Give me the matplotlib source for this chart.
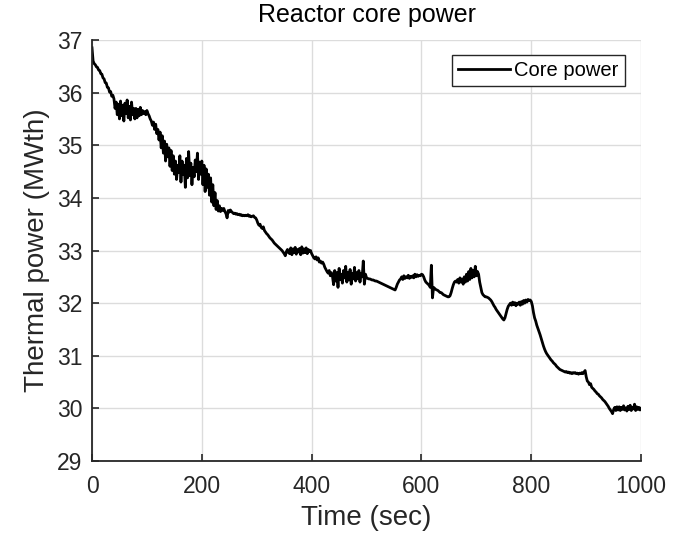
import numpy as np
import matplotlib.pyplot as plt

plt.rcParams['font.family'] = ['Liberation Sans', 'DejaVu Sans']

# core power logged every 2 s over the 1000 s run (MWth)
sample_step = 2
core_power = [
    36.85, 36.60, 36.55, 36.53, 36.49, 36.48, 36.43, 36.42, 36.36, 36.35,
    36.28, 36.26, 36.19, 36.18, 36.10, 36.09, 36.01, 36.02, 35.93, 35.95,
    35.88, 35.70, 35.82, 35.58, 35.78, 35.50, 35.84, 35.56, 35.76, 35.46,
    35.80, 35.60, 35.86, 35.52, 35.74, 35.48, 35.82, 35.58, 35.70, 35.50,
    35.70, 35.52, 35.68, 35.56, 35.72, 35.58, 35.66, 35.60, 35.64, 35.58,
    35.66, 35.60, 35.56, 35.50, 35.46, 35.38, 35.44, 35.30, 35.40, 35.22,
    35.30, 35.10, 35.25, 34.95, 35.18, 34.85, 35.08, 34.70, 35.02, 34.78,
    34.95, 34.60, 34.90, 34.52, 34.80, 34.45, 34.70, 34.35, 34.62, 34.48,
    34.80, 34.30, 34.70, 34.45, 34.62, 34.20, 34.75, 34.38, 34.88, 34.42,
    34.66, 34.25, 34.58, 34.40, 34.72, 34.50, 34.85, 34.35, 34.68, 34.45,
    34.70, 34.25, 34.62, 34.12, 34.55, 34.20, 34.45, 34.05, 34.38, 33.92,
    34.25, 33.85, 34.10, 33.78, 33.95, 33.75, 33.85, 33.74, 33.80, 33.76,
    33.80, 33.74, 33.70, 33.62, 33.76, 33.73, 33.77, 33.74, 33.72, 33.70,
    33.71, 33.69, 33.70, 33.68, 33.69, 33.67, 33.68, 33.66, 33.67, 33.66,
    33.67, 33.66, 33.68, 33.65, 33.66, 33.64, 33.65, 33.66, 33.63, 33.62,
    33.58, 33.52, 33.48, 33.50, 33.44, 33.42, 33.45, 33.38, 33.35, 33.32,
    33.30, 33.27, 33.24, 33.22, 33.20, 33.17, 33.14, 33.12, 33.10, 33.08,
    33.06, 33.04, 33.02, 33.00, 32.97, 32.94, 32.90, 32.98, 33.02, 32.96,
    32.94, 33.05, 32.92, 33.03, 32.96, 33.06, 32.93, 33.02, 32.97, 33.04,
    32.92, 33.07, 32.95, 33.03, 32.96, 33.05, 32.94, 33.02, 32.98, 33.00,
    32.94, 32.90, 32.86, 32.84, 32.88, 32.82, 32.86, 32.78, 32.80, 32.76,
    32.78, 32.74, 32.68, 32.64, 32.60, 32.57, 32.62, 32.52, 32.58, 32.50,
    32.35, 32.62, 32.42, 32.58, 32.30, 32.66, 32.45, 32.55, 32.38, 32.62,
    32.48, 32.70, 32.40, 32.58, 32.44, 32.64, 32.36, 32.56, 32.46, 32.68,
    32.42, 32.58, 32.46, 32.62, 32.40, 32.56, 32.50, 32.80, 32.36, 32.55,
    32.48, 32.47, 32.46, 32.46, 32.45, 32.44, 32.44, 32.43, 32.42, 32.42,
    32.41, 32.40, 32.39, 32.38, 32.37, 32.36, 32.35, 32.34, 32.33, 32.32,
    32.31, 32.30, 32.29, 32.28, 32.27, 32.26, 32.25, 32.30, 32.36, 32.40,
    32.44, 32.46, 32.50, 32.45, 32.52, 32.47, 32.50, 32.48, 32.53, 32.47,
    32.51, 32.49, 32.52, 32.48, 32.55, 32.50, 32.54, 32.51, 32.53, 32.52,
    32.55, 32.54, 32.50, 32.44, 32.40, 32.38, 32.36, 32.34, 32.30, 32.72,
    32.10, 32.30, 32.28, 32.26, 32.25, 32.24, 32.22, 32.20, 32.20, 32.18,
    32.16, 32.15, 32.14, 32.13, 32.12, 32.12, 32.14, 32.20, 32.28, 32.35,
    32.40, 32.42, 32.40, 32.45, 32.38, 32.48, 32.40, 32.46, 32.36, 32.50,
    32.40, 32.55, 32.42, 32.60, 32.45, 32.66, 32.48, 32.62, 32.50, 32.70,
    32.52, 32.60, 32.55, 32.40, 32.30, 32.20, 32.16, 32.14, 32.12, 32.12,
    32.11, 32.10, 32.08, 32.06, 32.03, 31.99, 31.95, 31.92, 31.88, 31.85,
    31.82, 31.79, 31.76, 31.73, 31.70, 31.68, 31.72, 31.80, 31.88, 31.94,
    31.97, 32.00, 31.96, 32.02, 31.97, 32.01, 31.95, 32.00, 31.98, 32.02,
    31.96, 32.03, 31.98, 32.05, 32.00, 32.06, 32.02, 32.07, 32.05, 32.06,
    32.03, 31.95, 31.82, 31.72, 31.66, 31.58, 31.52, 31.46, 31.40, 31.33,
    31.26, 31.19, 31.13, 31.08, 31.04, 31.01, 30.98, 30.95, 30.92, 30.90,
    30.87, 30.85, 30.83, 30.80, 30.78, 30.76, 30.74, 30.73, 30.72, 30.71,
    30.70, 30.69, 30.70, 30.68, 30.69, 30.67, 30.68, 30.66, 30.68, 30.67,
    30.68, 30.66, 30.67, 30.65, 30.67, 30.66, 30.68, 30.66, 30.69, 30.72,
    30.60, 30.52, 30.50, 30.45, 30.47, 30.40, 30.38, 30.36, 30.33, 30.31,
    30.28, 30.27, 30.24, 30.22, 30.20, 30.17, 30.15, 30.13, 30.10, 30.07,
    30.04, 30.00, 29.97, 29.94, 29.90, 29.98, 30.02, 29.96, 30.03, 29.97,
    30.03, 29.96, 30.02, 29.98, 30.05, 29.97, 30.01, 29.95, 30.04, 29.98,
    30.06, 29.96, 30.02, 29.99, 30.08, 29.96, 30.03, 29.98, 30.02, 29.97,
    30.00,
]
time = sample_step * np.arange(len(core_power))

x_ticks = [0, 200, 400, 600, 800, 1000]
y_ticks = [29, 30, 31, 32, 33, 34, 35, 36, 37]

fig = plt.figure(figsize=(6.83, 5.33), dpi=100)
ax = fig.add_axes([0.1347, 0.135, 0.804, 0.79])

ax.plot(time, core_power, color='black', linewidth=2.0, label='Core power')

ax.set_xlim(0, 1000)
ax.set_ylim(29, 37)
ax.set_xticks(x_ticks)
ax.set_yticks(y_ticks)
ax.grid(True, color='#dcdcdc', linewidth=1.0)
ax.set_axisbelow(True)

for side in ('top', 'right'):
    ax.spines[side].set_visible(False)
for side in ('left', 'bottom'):
    ax.spines[side].set_color('#262626')
    ax.spines[side].set_linewidth(1.3)

ax.tick_params(direction='in', length=5, width=1.2, colors='#262626',
               labelsize=16.5, labelcolor='#262626')
ax.tick_params(axis='x', pad=10)
ax.tick_params(axis='y', pad=7)

ax.set_xlabel('Time (sec)', fontsize=20, color='#262626', labelpad=5)
ax.set_ylabel('Thermal power (MWth)', fontsize=20, color='#262626', labelpad=5)
ax.set_title('Reactor core power', fontsize=18, color='black', pad=13)

leg = ax.legend(loc='upper right', bbox_to_anchor=(0.97, 0.965), fontsize=14.5,
                frameon=True, fancybox=False, handlelength=2.6,
                handletextpad=0.2, borderpad=0.3, borderaxespad=0)
leg.get_frame().set_edgecolor('#262626')
leg.get_frame().set_linewidth(1.0)
leg.get_frame().set_alpha(1)

fig.savefig('out.png', dpi=100)
